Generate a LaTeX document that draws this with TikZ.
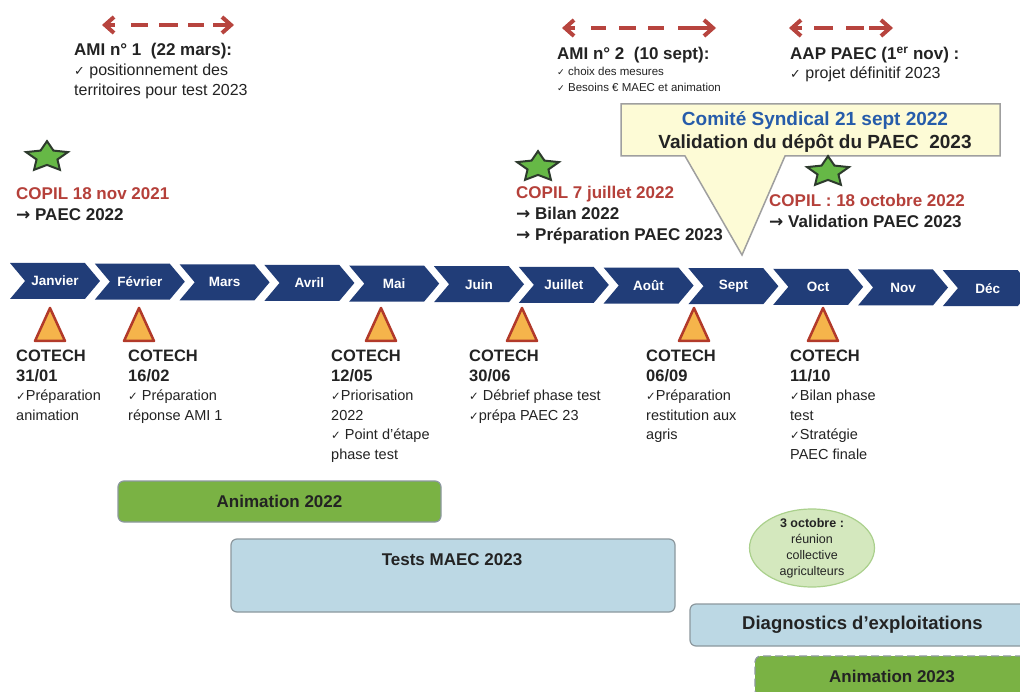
\documentclass[tikz,border=0pt]{standalone}
\usepackage{fontspec}
\setmainfont{Liberation Sans}
\newfontfamily\symfont{DejaVu Sans}
\usetikzlibrary{shapes.geometric,shapes.symbols,arrows.meta}
\definecolor{navy}{RGB}{33,61,120}
\definecolor{copilred}{RGB}{181,64,58}
\definecolor{arrowred}{RGB}{183,68,62}
\definecolor{triorange}{RGB}{245,180,75}
\definecolor{trired}{RGB}{178,58,42}
\definecolor{stargreen}{RGB}{102,184,70}
\definecolor{stardark}{RGB}{45,58,45}
\definecolor{barblue}{RGB}{188,216,228}
\definecolor{bargreen}{RGB}{122,178,68}
\definecolor{bargray}{RGB}{140,152,158}
\definecolor{ovalgreen}{RGB}{212,232,190}
\definecolor{ovalrim}{RGB}{170,208,140}
\definecolor{calloutfill}{RGB}{253,251,214}
\definecolor{comiteblue}{RGB}{38,92,170}
\definecolor{textdark}{RGB}{35,35,35}
\newcommand{\chk}{\scalebox{0.8}{\symfont ✓}}
\newcommand{\arr}{{\symfont →}}
\newcommand{\cbf}{\fontsize{16.5}{19.5}\selectfont\bfseries}
\begin{document}
\begin{tikzpicture}[x=1pt,y=-1pt]
	\tikzstyle{month}=[signal,signal from=west,signal to=east,signal pointer angle=100,fill=navy,text=white,font=\bfseries\fontsize{13.5}{16}\selectfont,minimum width=90pt,minimum height=36pt,inner sep=0pt]
	\tikzstyle{cotri}=[fill=triorange,draw=trired,line width=2.5pt,line join=round]
	\tikzstyle{cotech}=[anchor=north west,align=left,inner sep=0pt,text=textdark,font=\fontsize{14.5}{19.5}\selectfont]
	\tikzstyle{copil}=[anchor=north west,align=left,inner sep=0pt,text=textdark,font=\bfseries\fontsize{17}{21}\selectfont]
	\tikzstyle{ami}=[anchor=north west,align=left,inner sep=0pt,text=textdark]
	\tikzstyle{amiarrow}=[draw=arrowred,line width=4pt,arrows={Straight Barb[length=9pt,width=16pt]-Straight Barb[length=9pt,width=16pt]}]
	\tikzstyle{copilstar}=[star,star points=5,star point ratio=2.0,minimum size=44pt,inner sep=0pt,fill=stargreen,draw=stardark,line width=2pt,yscale=0.72,transform shape]
	\tikzstyle{comitebox}=[fill=calloutfill,draw=gray!75,line width=1.5pt]
	\tikzstyle{bar}=[rectangle,rounded corners=6pt,draw=bargray,line width=1.2pt,text=textdark,font=\bfseries\fontsize{17}{20}\selectfont]
	\tikzstyle{bartext}=[text=textdark,font=\bfseries\fontsize{17}{20}\selectfont]
	\tikzstyle{oval}=[ellipse,fill=ovalgreen,draw=ovalrim,line width=1.2pt,minimum width=125pt,minimum height=78pt,inner xsep=0pt,inner ysep=-4pt,align=center,text=textdark,font=\fontsize{12.5}{16}\selectfont]
	\useasboundingbox (0,0) rectangle (1020,692);
	\clip (0,0) rectangle (1020,692);
	\fill[white] (0,0) rectangle (1020,692);
	% appels a projets
	\coordinate (ami1-l) at (102,25);
	\coordinate (ami1-r) at (234,25);
	\coordinate (ami2-l) at (562,28);
	\coordinate (ami2-r) at (716,28);
	\coordinate (aap-l) at (789,28);
	\coordinate (aap-r) at (893,28);
	\draw[amiarrow,dash pattern=on 8pt off 16pt on 17pt off 11pt on 19pt off 10pt on 16pt off 9pt on 60pt] (ami1-l) -- (ami1-r);
	\draw[amiarrow,dash pattern=on 8pt off 16pt on 15pt off 13pt on 17pt off 12pt on 16pt off 14pt on 60pt] (ami2-l) -- (ami2-r);
	\draw[amiarrow,dash pattern=on 8pt off 12pt on 19pt off 13pt on 18pt off 5pt on 60pt] (aap-l) -- (aap-r);
	\node[ami,font=\fontsize{16}{20}\selectfont] (ami1) at (74,43) {{\bfseries\fontsize{17}{20}\selectfont AMI n° 1\ \ (22 mars):}\\\chk\ positionnement des\\territoires pour test 2023};
	\node[ami,font=\fontsize{11.5}{16}\selectfont] (ami2) at (557,47) {{\bfseries\fontsize{17}{20}\selectfont AMI n° 2\ \ (10 sept):}\\\chk\ choix des mesures\\\chk\ Besoins € MAEC et animation};
	\node[ami,font=\fontsize{16}{19}\selectfont] (aap) at (790,47) {{\bfseries\fontsize{17}{20}\selectfont AAP PAEC (1\textsuperscript{er} nov) :}\\\chk\ projet définitif 2023};
	% comite syndical
	\draw[comitebox] (621,104) -- (1000,104) -- (1000,156) -- (785,156) -- (742,255) -- (685,156) -- (621,156) -- cycle;
	\node[font=\bfseries\fontsize{19}{23}\selectfont,align=center,text=textdark] (comite) at (815,132) {\textcolor{comiteblue}{Comité Syndical 21 sept 2022}\\Validation du dépôt du PAEC\ \ 2023};
	% COPIL
	\node[copilstar] (star1) at (47,157) {};
	\node[copilstar] (star2) at (538,167) {};
	\node[copilstar] (star3) at (828,172) {};
	\node[copil] (copil1) at (16,187) {\textcolor{copilred}{COPIL 18 nov 2021}\\\arr\ PAEC 2022};
	\node[copil] (copil2) at (516,186) {\textcolor{copilred}{COPIL 7 juillet 2022}\\\arr\ Bilan 2022\\\arr\ Préparation PAEC 2023};
	\node[copil] (copil3) at (769,194) {\textcolor{copilred}{COPIL : 18 octobre 2022}\\\arr\ Validation PAEC 2023};
	% frise des mois
	\foreach \m [count=\i from 0] in {Janvier,Février,Mars,Avril,Mai,Juin,Juillet,Août,Sept,Oct,Nov,Déc}
		\node[month] (m\i) at ({55+\i*84.8},{281+\i*0.65}) {\m};
	% COTECH
	\foreach \x in {50,139,381,522,694,823}
		\draw[cotri] (\x,308) -- ++(15,33) -- ++(-30,0) -- cycle;
	\node[cotech] (cotech1) at (16,350) {{\cbf COTECH}\\{\cbf 31/01}\\\chk Préparation\\animation};
	\node[cotech] (cotech2) at (128,350) {{\cbf COTECH}\\{\cbf 16/02}\\\chk\ Préparation\\réponse AMI 1};
	\node[cotech] (cotech3) at (331,350) {{\cbf COTECH}\\{\cbf 12/05}\\\chk Priorisation\\2022\\\chk\ Point d'étape\\phase test};
	\node[cotech] (cotech4) at (469,350) {{\cbf COTECH}\\{\cbf 30/06}\\\chk\ Débrief phase test\\\chk prépa PAEC 23};
	\node[cotech] (cotech5) at (646,350) {{\cbf COTECH}\\{\cbf 06/09}\\\chk Préparation\\restitution aux\\agris};
	\node[cotech] (cotech6) at (790,350) {{\cbf COTECH}\\{\cbf 11/10}\\\chk Bilan phase\\test\\\chk Stratégie\\PAEC finale};
	% phases
	\node[bar,fill=bargreen,minimum width=323pt,minimum height=41pt] (anim22) at (279.5,501.5) {Animation 2022};
	\node[bar,fill=barblue,minimum width=444pt,minimum height=73pt] (tests) at (453,575.5) {};
	\node[bartext] (tests-txt) at (452,560) {Tests MAEC 2023};
	\node[oval] (reunion) at (812,548) {\textbf{3 octobre :}\\réunion\\collective\\agriculteurs};
	\node[bar,fill=barblue,minimum width=345pt,minimum height=42pt,font=\bfseries\fontsize{18.5}{22}\selectfont] (diag) at (862.5,625) {Diagnostics d’exploitations};
	\node[bar,fill=bargreen,dash pattern=on 8pt off 4pt,minimum width=274pt,minimum height=40pt] (anim23) at (892,676) {Animation 2023};
\end{tikzpicture}
\end{document}
